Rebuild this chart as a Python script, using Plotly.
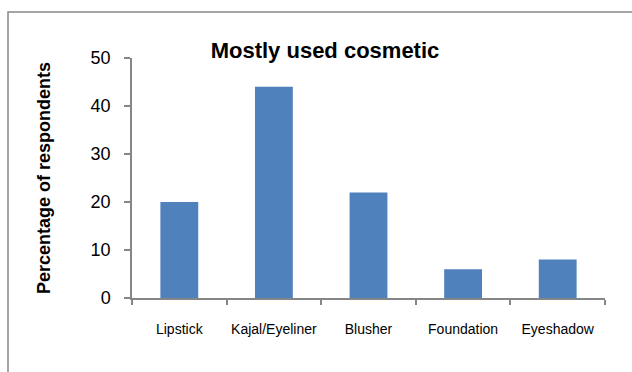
import plotly.graph_objects as go

categories = ["Lipstick", "Kajal/Eyeliner", "Blusher", "Foundation", "Eyeshadow"]
values = [20, 44, 22, 6, 8]
y_ticks = [0, 10, 20, 30, 40, 50]

L, R, T, B = 132, 27, 58, 74
W, H = 632, 372
pw, ph = W - L - R, H - T - B

def px(x):
    return (x - L) / pw

def py(y):
    return (H - B - y) / ph

fig = go.Figure(go.Bar(x=categories, y=values, marker=dict(color="#4F81BD", line=dict(width=0)),
                       showlegend=False))

fig.update_layout(
    width=W, height=H,
    margin=dict(l=L, r=R, t=T, b=B, autoexpand=False),
    paper_bgcolor="white", plot_bgcolor="white",
    bargap=0.6,
    font=dict(family="Liberation Sans", color="black"),
    title=dict(text="<b>Mostly used cosmetic</b>", x=px(325), xanchor="center", xref="paper",
               y=1 - 50 / H, yanchor="middle", font=dict(size=22, family="Liberation Sans")),
    xaxis=dict(showline=True, linecolor="#868686", linewidth=1.5, ticks="outside", tickson="boundaries",
               ticklen=5, tickcolor="#868686", tickwidth=1.5, tickfont=dict(size=14), showgrid=False,
               ticklabelstandoff=17, tickangle=0, automargin=False),
    yaxis=dict(range=[0, 50], tickvals=y_ticks, showline=True, linecolor="#868686", linewidth=1.5,
               ticks="outside", ticklen=6, tickcolor="#868686", tickwidth=1.5, tickfont=dict(size=18),
               showgrid=False, zeroline=False, ticklabelstandoff=10, automargin=False),
    annotations=[dict(text="<b>Percentage of respondents</b>", xref="paper", yref="paper",
                      x=px(44), y=py(178), xanchor="center", yanchor="middle", textangle=-90,
                      showarrow=False, font=dict(size=18))],
    shapes=[dict(type="rect", xref="paper", yref="paper", x0=px(8), x1=px(700), y0=py(12), y1=py(450),
                 line=dict(color="#888888", width=1.5), fillcolor="rgba(0,0,0,0)", layer="below")],
)

fig.write_html("out.html")
